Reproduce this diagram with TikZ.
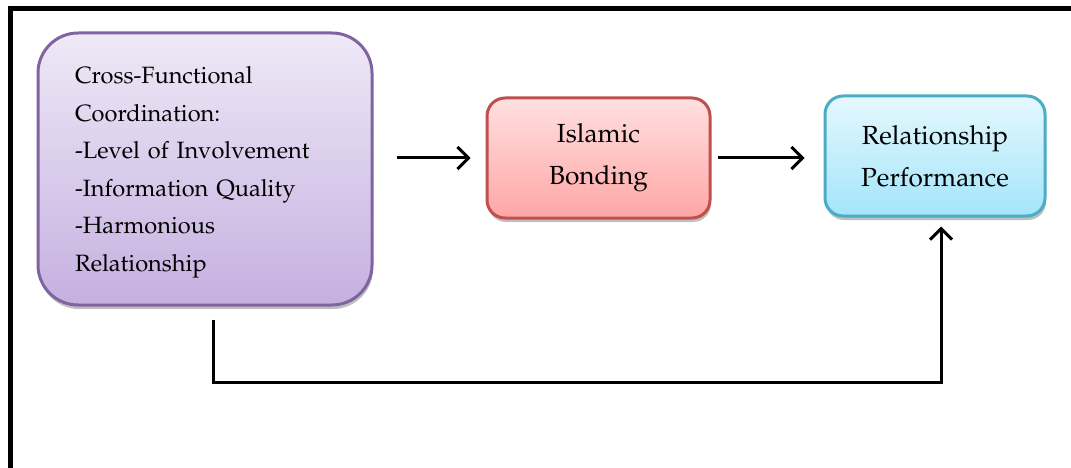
\documentclass[tikz,border=0pt]{standalone}
\usepackage[T1]{fontenc}
\usepackage{mathpazo}
\usetikzlibrary{arrows.meta,shadows,calc}
\definecolor{pborder}{HTML}{8064A2}
\definecolor{ptop}{HTML}{EFE9F7}
\definecolor{pbot}{HTML}{C5B0E0}
\definecolor{rborder}{HTML}{C0504D}
\definecolor{rtop}{HTML}{FFE0E0}
\definecolor{rbot}{HTML}{FFA6A6}
\definecolor{bborder}{HTML}{4BACC6}
\definecolor{btop}{HTML}{E5F8FE}
\definecolor{bbot}{HTML}{A3E5FA}
\begin{document}
\begin{tikzpicture}[x=1pt,y=1pt,
  box/.style={draw, line width=3pt, inner sep=0pt,
    drop shadow={shadow xshift=1pt, shadow yshift=-4pt, opacity=0.25, fill=black}},
  ptxt/.style={font=\fontsize{23.6}{37.5}\selectfont, text width=260pt, align=left, inner sep=0pt},
  btxt/.style={font=\fontsize{26.2}{42}\selectfont, align=center},
  arr/.style={line width=3pt, -{Straight Barb[length=11pt,width=22pt,line width=3pt]}}]
\useasboundingbox (0,0) rectangle (1071,-468);
\clip (0,0) rectangle (1071,-468);
\draw[line width=5pt] (10.5,-8.5) rectangle (1100,-470);
\node[box, draw=pborder, top color=ptop, bottom color=pbot, rounded corners=40pt,
  minimum width=334pt, minimum height=272pt] (purple) at (205,-169) {};
\node[ptxt] (ptext) at (205,-172.5)
  {Cross-Functional\\Coordination:\\-Level of Involvement\\-Information Quality\\-Harmonious\\Relationship};
\node[box, btxt, draw=rborder, top color=rtop, bottom color=rbot, rounded corners=18pt,
  minimum width=223pt, minimum height=120pt]
  (red) at (598.5,-158) {Islamic\\Bonding};
\node[box, btxt, draw=bborder, top color=btop, bottom color=bbot, rounded corners=18pt,
  minimum width=220pt, minimum height=120pt]
  (blue) at (935,-156) {Relationship\\Performance};
\draw[arr, shorten <=23pt, shorten >=15pt] (purple.east |- red.west) -- (red.west);
\draw[arr, shorten <=6pt, shorten >=19pt] (red.east) -- (blue.west |- red.east);
\draw[arr, shorten <=13pt, shorten >=9pt] ($(purple.south)+(8,0)$) -- ++(0,-76) -| ($(blue.south)+(6,0)$);
\end{tikzpicture}
\end{document}
